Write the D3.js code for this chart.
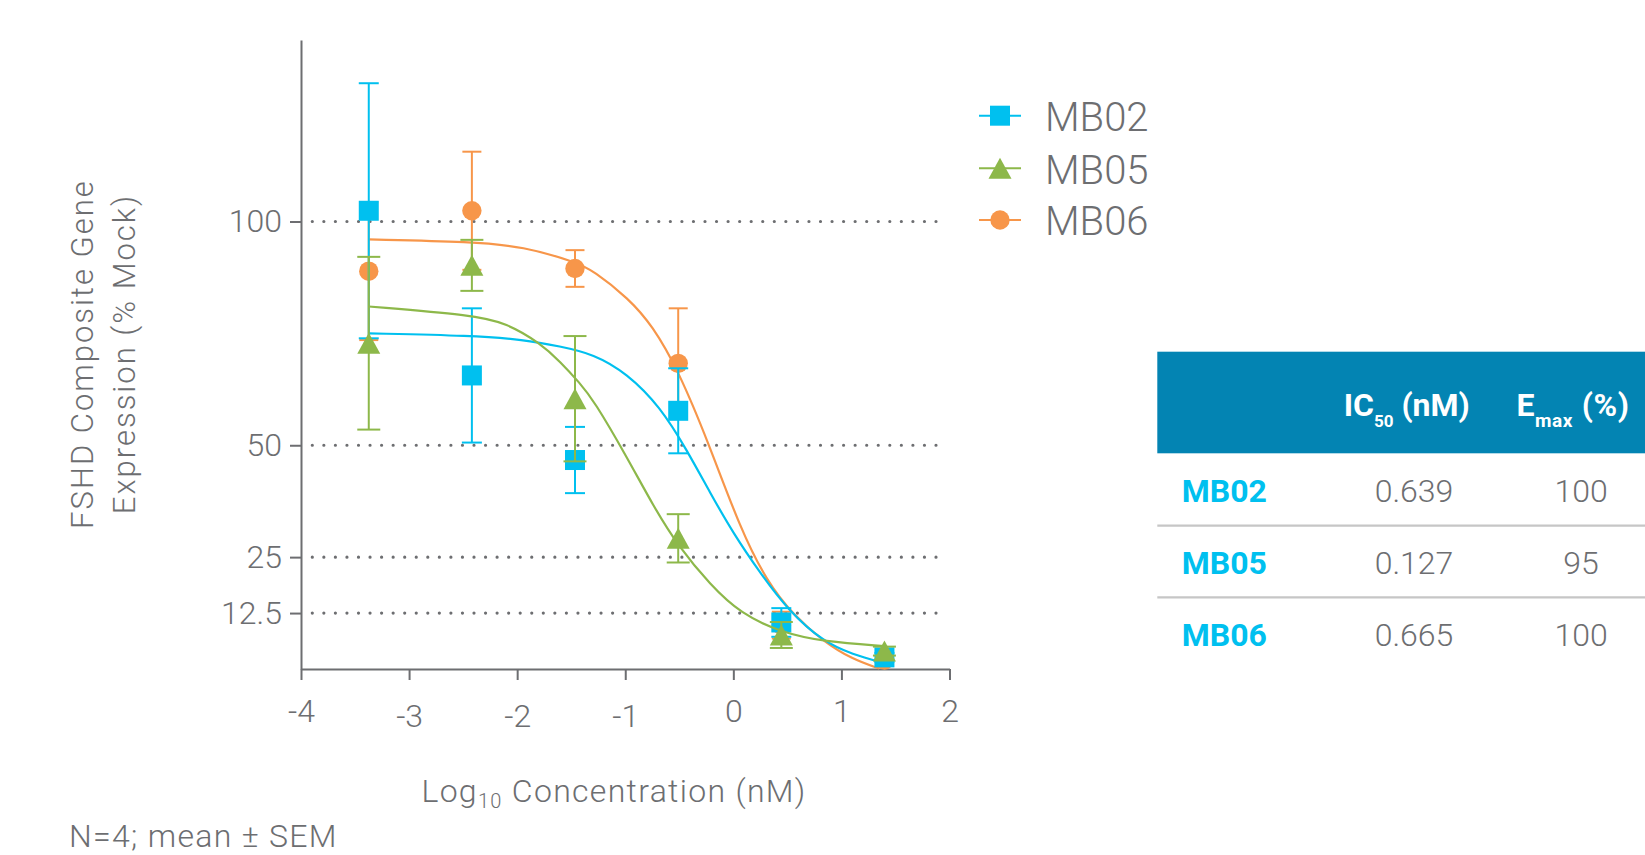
<!DOCTYPE html>
<html><head><meta charset="utf-8">
<script src="https://cdn.jsdelivr.net/npm/d3@7"></script>
<style>
html,body{margin:0;padding:0;background:#fff;overflow:hidden}
svg{display:block}
text{font-family:Roboto,"DejaVu Sans",sans-serif}
</style></head><body>
<svg id="chart" width="1645" height="855"></svg>
<script>
// ---------- data ----------
const logConc = [-3.373, -2.419, -1.465, -0.510, 0.444, 1.398];
const seriesNames = ["MB02", "MB05", "MB06"];
const mb02Mean = [102.4, 65.6, 46.7, 57.7, 10.4, 2.6];
const mb02Sem  = [28.5, 15.0, 7.4, 9.5, 3.2, 1.0];
const mb05Mean = [72.8, 90.2, 60.4, 29.2, 7.6, 4.0];
const mb05Sem  = [19.3, 5.7, 14.0, 5.4, 2.9, 1.0];
const mb06Mean = [88.9, 102.4, 89.5, 68.3, 9.8, 2.0];
const mb06Sem  = [15.4, 13.2, 4.1, 12.3, 3.0, 1.0];
// fitted curves
const mb02FitX = [-3.373, -2.414, -1.942, -1.602, -1.293, -0.985, -0.676, -0.429, -0.213, 0.0, 0.25, 0.5, 0.836, 1.1, 1.398];
const mb02FitY = [75.0, 74.5, 73.6, 72.1, 70.4, 66.1, 58.6, 48.9, 39.3, 30.3, 21.4, 13.3, 6.0, 3.3, 1.3];
const mb05FitX = [-3.373, -2.414, -2.098, -1.787, -1.602, -1.417, -1.293, -0.985, -0.738, -0.506, -0.213, 0.065, 0.451, 0.836, 1.398];
const mb05FitY = [81.0, 79.1, 77.3, 72.8, 68.7, 63.8, 60.1, 47.4, 36.3, 27.3, 18.8, 12.4, 8.1, 6.1, 5.1];
const mb06FitX = [-3.373, -2.414, -1.942, -1.465, -1.293, -0.969, -0.75, -0.506, -0.229, 0.065, 0.312, 0.55, 0.836, 1.1, 1.35];
const mb06FitY = [96.0, 95.5, 94.4, 91.0, 89.0, 82.8, 76.8, 66.6, 50.5, 31.3, 19.5, 12.2, 6.1, 2.2, 0.1];
const yTicks = [12.5, 25, 50, 100];
const xTicks = [-4, -3, -2, -1, 0, 1, 2];
const ic50Values = ["0.639", "0.127", "0.665"];
const emaxValues = ["100", "95", "100"];

// ---------- styles ----------
const GRAY = "#6d6e71";
const colors = {MB02: "#00c0ef", MB05: "#8db84a", MB06: "#f7964a"};
const shapes = {MB02: "square", MB05: "triangle", MB06: "circle"};
const capW = {MB02: 20, MB05: 23, MB06: 19};

const svg = d3.select("#chart");
svg.append("rect").attr("width", 1645).attr("height", 855).attr("fill", "#fff");

const x = d3.scaleLinear().domain([-4, 2]).range([301, 949.5]);
const y = d3.scaleLinear().domain([0, 140.56]).range([669, 40]);

// dotted gridlines
svg.append("g").selectAll("line").data(yTicks).join("line")
  .attr("x1", 312.3).attr("x2", 946)
  .attr("y1", d => y(d)).attr("y2", d => y(d))
  .attr("stroke", GRAY).attr("stroke-width", 3.2)
  .attr("stroke-linecap", "round").attr("stroke-dasharray", "0 11.55");

// axes
const yAxis = svg.append("g").attr("transform", `translate(${x(-4)},0)`)
  .call(d3.axisLeft(y).tickValues(yTicks).tickSize(11).tickSizeOuter(0).tickPadding(8).tickFormat(d => d));
const xAxis = svg.append("g").attr("transform", `translate(0,${y(0)})`)
  .call(d3.axisBottom(x).tickValues(xTicks).tickSize(11).tickSizeOuter(0).tickFormat(d => d));
[yAxis, xAxis].forEach(a => {
  a.selectAll("path,line").attr("stroke", GRAY).attr("stroke-width", 2);
  a.selectAll("text").attr("fill", GRAY).style("font-size", "32px").style("font-weight", 300).attr("font-family", "Roboto");
});
xAxis.selectAll("text").attr("dy", null)
  .attr("y", d => (d < 0 && d > -4) ? 57.7 : 52.7);

// series
const series = {
  MB02: {mean: mb02Mean, sem: mb02Sem, fx: mb02FitX, fy: mb02FitY},
  MB05: {mean: mb05Mean, sem: mb05Sem, fx: mb05FitX, fy: mb05FitY},
  MB06: {mean: mb06Mean, sem: mb06Sem, fx: mb06FitX, fy: mb06FitY}
};
const line = d3.line().x(d => x(d[0])).y(d => y(d[1])).curve(d3.curveBasis);

function marker(g, name, cx, cy) {
  const c = colors[name];
  if (shapes[name] === "square") {
    g.append("rect").attr("x", cx - 10).attr("y", cy - 10).attr("width", 20).attr("height", 20).attr("fill", c);
  } else if (shapes[name] === "circle") {
    g.append("circle").attr("cx", cx).attr("cy", cy).attr("r", 9.7).attr("fill", c);
  } else {
    const w = 23, h = 21;
    g.append("path").attr("d", `M${cx},${cy - h / 2}L${cx + w / 2},${cy + h / 2}L${cx - w / 2},${cy + h / 2}Z`).attr("fill", c);
  }
}

["MB06", "MB02", "MB05"].forEach(name => {
  const s = series[name], c = colors[name];
  const g = svg.append("g");
  g.append("path").datum(s.fx.map((v, i) => [v, s.fy[i]]))
    .attr("d", line).attr("fill", "none").attr("stroke", c).attr("stroke-width", 2.2);
  logConc.forEach((lx, i) => {
    const cx = x(lx), top = y(s.mean[i] + s.sem[i]), bot = y(s.mean[i] - s.sem[i]);
    const hw = capW[name] / 2;
    g.append("line").attr("x1", cx).attr("x2", cx).attr("y1", top).attr("y2", bot).attr("stroke", c).attr("stroke-width", 2);
    g.append("line").attr("x1", cx - hw).attr("x2", cx + hw).attr("y1", top).attr("y2", top).attr("stroke", c).attr("stroke-width", 2);
    g.append("line").attr("x1", cx - hw).attr("x2", cx + hw).attr("y1", bot).attr("y2", bot).attr("stroke", c).attr("stroke-width", 2);
  });
  logConc.forEach((lx, i) => marker(g, name, x(lx), y(s.mean[i])));
});

// legend
const legY = [115.7, 168.3, 220];
seriesNames.forEach((name, i) => {
  const g = svg.append("g");
  g.append("line").attr("x1", 979).attr("x2", 1021).attr("y1", legY[i]).attr("y2", legY[i])
    .attr("stroke", colors[name]).attr("stroke-width", 2);
  marker(g, name, 1000, legY[i]);
  g.append("text").attr("x", 1045).attr("y", legY[i] + 15.3).text(name)
    .attr("fill", GRAY).style("font-size", "40px").style("font-weight", 300);
});

// axis titles
const yt = svg.append("text").attr("transform", "translate(93.3,354) rotate(-90)")
  .attr("text-anchor", "middle").attr("fill", GRAY).style("font-size", "31px").style("font-weight", 300)
  .style("letter-spacing", "2px");
yt.append("tspan").attr("x", 0).attr("y", 0).text("FSHD Composite Gene");
yt.append("tspan").attr("x", 0).attr("y", 41.7).text("Expression (% Mock)");

const xt = svg.append("text").attr("x", 614).attr("y", 801.7).attr("text-anchor", "middle")
  .attr("fill", GRAY).style("font-size", "32px").style("font-weight", 300).style("letter-spacing", "1.3px");
xt.append("tspan").text("Log");
xt.append("tspan").attr("dy", 6).style("font-size", "20px").text("10");
xt.append("tspan").attr("dy", -6).text(" Concentration (nM)");

svg.append("text").attr("x", 69).attr("y", 847).attr("fill", GRAY)
  .style("font-size", "32px").style("font-weight", 300).style("letter-spacing", "1.3px").text("N=4; mean ± SEM");

// table
const tbl = svg.append("g");
tbl.append("rect").attr("x", 1157.3).attr("y", 351.7).attr("width", 1645 - 1157.3).attr("height", 101.6).attr("fill", "#0384b3");
const h1 = tbl.append("text").attr("x", 1406.7).attr("y", 416).attr("text-anchor", "middle")
  .attr("fill", "#fff").style("font-size", "32px").style("font-weight", 700);
h1.append("tspan").text("IC");
h1.append("tspan").attr("dy", 11).style("font-size", "17px").text("50");
h1.append("tspan").attr("dy", -11).text(" (nM)");
const h2 = tbl.append("text").attr("x", 1573).attr("y", 416).attr("text-anchor", "middle")
  .attr("fill", "#fff").style("font-size", "32px").style("font-weight", 700).style("letter-spacing", "0.6px");
h2.append("tspan").text("E");
h2.append("tspan").attr("dy", 11).style("font-size", "19px").text("max");
h2.append("tspan").attr("dy", -11).text(" (%)");

const rowBase = [502.3, 574.3, 646];
const sepY = [525.7, 597.3];
sepY.forEach(sy => tbl.append("line").attr("x1", 1157.3).attr("x2", 1645).attr("y1", sy).attr("y2", sy)
  .attr("stroke", "#c6c6c6").attr("stroke-width", 2.2));
seriesNames.forEach((name, i) => {
  tbl.append("text").attr("x", 1181.7).attr("y", rowBase[i]).text(name)
    .attr("fill", "#00c0ef").style("font-size", "32px").style("font-weight", 700);
  tbl.append("text").attr("x", 1414).attr("y", rowBase[i]).attr("text-anchor", "middle").text(ic50Values[i])
    .attr("fill", GRAY).style("font-size", "32px").style("font-weight", 300);
  tbl.append("text").attr("x", 1581).attr("y", rowBase[i]).attr("text-anchor", "middle").text(emaxValues[i])
    .attr("fill", GRAY).style("font-size", "32px").style("font-weight", 300);
});
</script>
</body></html>
